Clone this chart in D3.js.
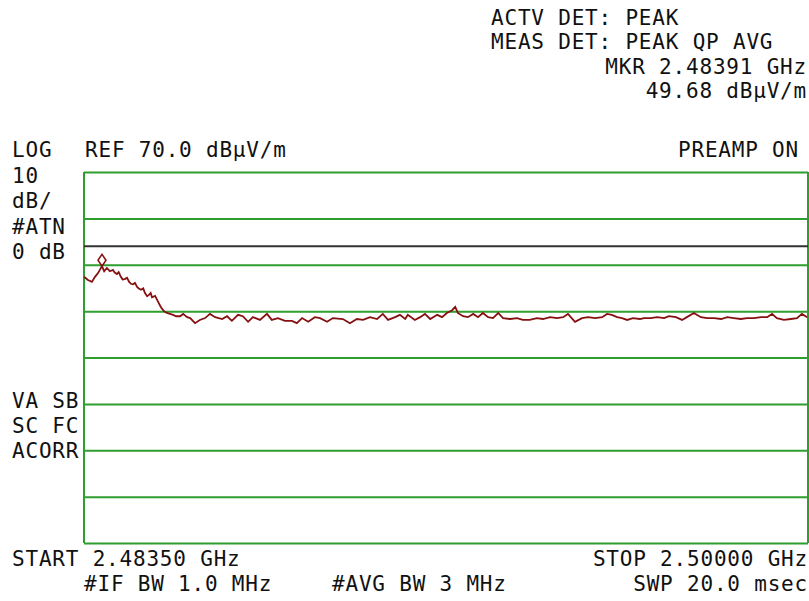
<!DOCTYPE html>
<html>
<head>
<meta charset="utf-8">
<script src="https://cdn.jsdelivr.net/npm/d3@7"></script>
<style>
  html, body { margin: 0; padding: 0; background: #fff; }
  svg { display: block; }
  text { font-family: "DejaVu Sans Mono", "Liberation Mono", monospace; font-size: 21px; fill: #111; letter-spacing: 0.8px; }
</style>
</head>
<body>
<svg id="chart" width="809" height="601"></svg>
<script>
// ---- data ----
const startMHz = 2483.5;
const stopMHz = 2500.0;
const refLevel = 70;          // dBµV/m, top of screen
const dbPerDiv = 10;
const divisions = 8;
const limitLine = 54;         // dBµV/m display line
const marker = { freq: 2483.91, level: 49.68 };

const traceFreq = [
  2483.50, 2483.59, 2483.68, 2483.75, 2483.82, 2483.91, 2483.96, 2484.02, 2484.09, 2484.16,
  2484.20, 2484.25, 2484.29, 2484.34, 2484.38, 2484.43, 2484.48, 2484.53, 2484.57, 2484.62,
  2484.66, 2484.71, 2484.75, 2484.80, 2484.85, 2484.89, 2484.94, 2484.98, 2485.02, 2485.05,
  2485.12, 2485.19, 2485.25, 2485.32, 2485.39, 2485.46, 2485.53, 2485.60, 2485.69, 2485.76,
  2485.85, 2485.92, 2486.03, 2486.14, 2486.26, 2486.37, 2486.49, 2486.65, 2486.76, 2486.87,
  2487.01, 2487.12, 2487.24, 2487.35, 2487.51, 2487.67, 2487.78, 2487.92, 2488.08, 2488.24,
  2488.35, 2488.47, 2488.61, 2488.76, 2488.88, 2489.04, 2489.17, 2489.40, 2489.56, 2489.72,
  2489.86, 2490.02, 2490.18, 2490.31, 2490.43, 2490.59, 2490.70, 2490.82, 2490.88, 2491.04,
  2491.16, 2491.27, 2491.39, 2491.55, 2491.66, 2491.77, 2491.89, 2491.96, 2492.02, 2492.14,
  2492.25, 2492.37, 2492.48, 2492.59, 2492.71, 2492.82, 2492.94, 2493.05, 2493.21, 2493.37,
  2493.50, 2493.66, 2493.82, 2493.96, 2494.12, 2494.28, 2494.42, 2494.53, 2494.69, 2494.85,
  2494.99, 2495.15, 2495.31, 2495.42, 2495.53, 2495.65, 2495.76, 2495.88, 2496.01, 2496.17,
  2496.26, 2496.42, 2496.56, 2496.72, 2496.83, 2496.99, 2497.13, 2497.24, 2497.40, 2497.56,
  2497.70, 2497.86, 2498.02, 2498.16, 2498.31, 2498.47, 2498.61, 2498.77, 2498.93, 2499.07,
  2499.18, 2499.29, 2499.45, 2499.61, 2499.75, 2499.86, 2499.98
];
const traceLevel = [
  47.4, 46.7, 46.3, 47.4, 48.2, 49.7, 48.6, 49.3, 48.6, 48.9,
  48.3, 48.0, 48.4, 47.4, 46.8, 46.9, 47.2, 46.3, 45.9, 45.8,
  46.1, 45.2, 44.9, 44.6, 44.9, 43.9, 43.2, 43.5, 43.9, 43.0,
  43.3, 42.0, 40.9, 40.0, 39.6, 39.4, 39.2, 38.9, 38.9, 39.4,
  38.7, 38.5, 37.4, 38.1, 38.5, 39.4, 38.7, 38.3, 38.9, 37.9,
  39.2, 38.9, 37.7, 38.7, 38.1, 39.4, 38.1, 38.5, 37.9, 37.9,
  37.4, 38.5, 37.7, 38.7, 38.5, 37.7, 38.5, 38.3, 37.4, 38.3,
  38.1, 38.7, 38.3, 39.4, 38.1, 38.7, 39.2, 38.3, 39.2, 38.1,
  38.7, 39.4, 38.3, 39.2, 38.7, 39.6, 40.2, 40.9, 39.6, 38.9,
  38.7, 39.4, 38.7, 39.6, 38.7, 38.5, 39.6, 38.5, 38.3, 38.5,
  38.1, 38.1, 38.5, 38.3, 38.7, 38.5, 38.7, 39.4, 37.7, 38.5,
  38.7, 38.5, 38.7, 39.4, 39.2, 38.7, 38.5, 38.1, 38.5, 38.3,
  38.5, 38.5, 38.7, 38.5, 38.9, 38.7, 38.1, 38.7, 39.6, 38.7,
  38.5, 38.5, 38.3, 38.7, 38.5, 38.3, 38.5, 38.5, 38.7, 38.7,
  39.4, 38.5, 38.1, 38.3, 38.5, 39.4, 38.7
];

const headerLines = ["ACTV DET: PEAK", "MEAS DET: PEAK QP AVG"];
const markerLines = ["MKR 2.48391 GHz", "49.68 dBµV/m"];
const leftLabelsTop = ["LOG", "10", "dB/", "#ATN", "0 dB"];
const leftLabelsMid = ["VA SB", "SC FC", "ACORR"];
const refLabel = "REF 70.0 dBµV/m";
const preampLabel = "PREAMP ON";
const startLabel = "START 2.48350 GHz";
const stopLabel = "STOP 2.50000 GHz";
const ifbwLabel = "#IF BW 1.0 MHz";
const avgbwLabel = "#AVG BW 3 MHz";
const sweepLabel = "SWP 20.0 msec";

// ---- layout ----
const svg = d3.select("#chart");
const L = 84, R = 808, T = 172, B = 543;
const GREEN = "#2e9e2e", TRACE = "#861010";

const x = d3.scaleLinear().domain([startMHz, stopMHz]).range([L, R]);
const bottomLevel = refLevel - dbPerDiv * divisions;
const y = d3.scaleLinear().domain([bottomLevel, refLevel]).range([B, T]);
const gridLevels = d3.range(divisions + 1).map(i => bottomLevel + i * dbPerDiv);

// horizontal graticule via axis
const gridAxis = d3.axisLeft(y).tickValues(gridLevels).tickSize(-(R - L)).tickFormat("");
const g = svg.append("g").attr("transform", `translate(${L},0)`).call(gridAxis);
g.select(".domain").remove();
g.selectAll(".tick line").attr("stroke", GREEN).attr("stroke-width", 2);

// frame verticals
svg.append("line").attr("x1", x(startMHz)).attr("x2", x(startMHz)).attr("y1", y(refLevel)).attr("y2", y(bottomLevel))
  .attr("stroke", GREEN).attr("stroke-width", 2);
svg.append("line").attr("x1", x(stopMHz)).attr("x2", x(stopMHz)).attr("y1", y(refLevel)).attr("y2", y(bottomLevel))
  .attr("stroke", GREEN).attr("stroke-width", 2);

// display (limit) line
svg.append("line").attr("x1", L).attr("x2", R).attr("y1", y(limitLine)).attr("y2", y(limitLine))
  .attr("stroke", "#333").attr("stroke-width", 2);

// trace
const pts = traceFreq.map((f, i) => [f, traceLevel[i]]);
const line = d3.line().x(d => x(d[0])).y(d => y(d[1])).curve(d3.curveLinear);
svg.append("path").datum(pts).attr("d", line).attr("fill", "none")
  .attr("stroke", TRACE).attr("stroke-width", 1.8).attr("stroke-linejoin", "miter");

// marker diamond (bottom tip on the marker point)
const mx = x(marker.freq), my = y(marker.level);
svg.append("path")
  .attr("d", `M${mx},${my} L${mx + 4},${my - 6} L${mx},${my - 12} L${mx - 4},${my - 6} Z`)
  .attr("fill", "none").attr("stroke", TRACE).attr("stroke-width", 1.5);

// ---- text ----
function txt(s, xx, yy, anchor) {
  svg.append("text").attr("x", xx).attr("y", yy).attr("text-anchor", anchor || "start").text(s);
}
headerLines.forEach((s, i) => txt(s, 491, 25 + i * 24));
markerLines.forEach((s, i) => txt(s, 807, 74 + i * 24, "end"));
leftLabelsTop.forEach((s, i) => txt(s, 12, 157 + i * 25.5));
leftLabelsMid.forEach((s, i) => txt(s, 12, 408 + i * 25));
txt(refLabel, 85, 157);
txt(preampLabel, 799, 157, "end");
txt(startLabel, 12, 566);
txt(stopLabel, 808, 566, "end");
txt(ifbwLabel, 84, 591);
txt(avgbwLabel, 332, 591);
txt(sweepLabel, 808, 591, "end");
</script>
</body>
</html>
